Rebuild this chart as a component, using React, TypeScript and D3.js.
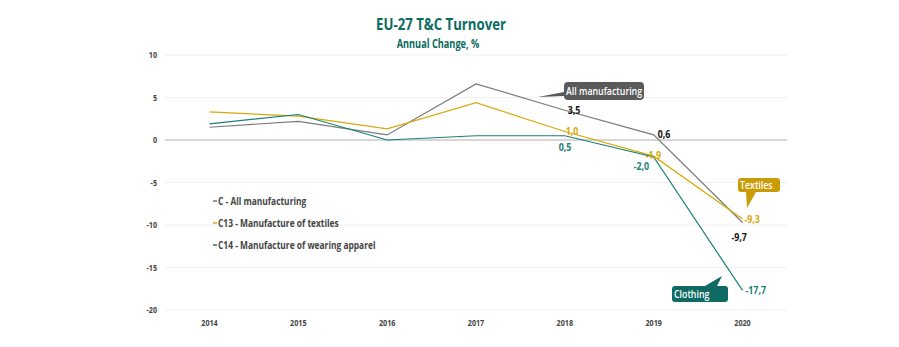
import React from "react";
import * as d3 from "d3";

const years = ["2014", "2015", "2016", "2017", "2018", "2019", "2020"];
const allManufacturing = [1.5, 2.2, 0.6, 6.6, 3.5, 0.6, -9.7];
const textiles = [3.3, 2.8, 1.3, 4.4, 1.0, -1.9, -9.3];
const clothing = [1.9, 3.0, 0.0, 0.5, 0.5, -2.0, -17.7];
const yTicks = [10, 5, 0, -5, -10, -15, -20];
const legendLabels = [
  "C - All manufacturing",
  "C13 - Manufacture of textiles",
  "C14 - Manufacture of wearing apparel",
];

const W = 899, H = 347;
const GRAY = "#7a7a7a", GOLD = "#d8a90a", TEAL = "#1b7e77";
const GRAYBOX = "#5a5a5a", GOLDBOX = "#c99b06", TEALBOX = "#0e6a63";
const FONT = "'Open Sans', 'DejaVu Sans', sans-serif";
const SX = 0.8;

function T({ x, y, children, anchor = "start", size = 9, fill = "#444", weight = 700 }: any) {
  return (
    <text
      transform={`translate(${x},${y}) scale(${SX},1)`}
      textAnchor={anchor}
      fontSize={size}
      fontWeight={weight}
      fill={fill}
      fontFamily={FONT}
    >
      {children}
    </text>
  );
}

const fmt = (v: number) => v.toFixed(1).replace(".", ",");

export default function App() {
  const x = d3.scalePoint<string>().domain(years).range([209.5, 742.5]);
  const y = d3.scaleLinear().domain([-20, 10]).range([310, 55]);
  const line = d3
    .line<number>()
    .x((_, i) => x(years[i])!)
    .y((d) => y(d));
  const x0 = 165, x1 = 787;
  const last = years.length - 1;
  const px = (i: number) => x(years[i])!;

  return (
    <div style={{ margin: "-8px" }}>
      <svg width={W} height={H} style={{ display: "block", background: "#fff" }}>
        {/* title */}
        <T x={441} y={30} anchor="middle" size={16.5} fill="#0b6a62">EU-27 T&amp;C Turnover</T>
        <T x={438} y={48} anchor="middle" size={11.5} fill="#0b6a62">Annual Change, %</T>

        {/* grid */}
        {yTicks.map((t) => (
          <g key={t}>
            <line
              x1={x0}
              x2={x1}
              y1={y(t)}
              y2={y(t)}
              stroke={t === 0 ? "#b0b0b0" : "#f0f0f0"}
              strokeWidth={t === 0 ? 1.2 : 1}
            />
            <T x={157} y={y(t) + 3} anchor="end" size={9}>{String(t)}</T>
          </g>
        ))}
        {years.map((yr) => (
          <T key={yr} x={x(yr)!} y={326} anchor="middle" size={9}>{yr}</T>
        ))}

        {/* lines */}
        <path d={line(allManufacturing)!} fill="none" stroke={GRAY} strokeWidth={1.2} />
        <path d={line(textiles)!} fill="none" stroke={GOLD} strokeWidth={1.2} />
        <path d={line(clothing)!} fill="none" stroke={TEAL} strokeWidth={1.2} />

        {/* data labels */}
        <T x={px(4) + 3} y={y(allManufacturing[4]) + 4} size={11} fill="#111">{fmt(allManufacturing[4])}</T>
        <T x={px(5) + 4} y={y(allManufacturing[5]) + 3} size={11} fill="#111">{fmt(allManufacturing[5])}</T>
        <T x={px(last) - 11} y={y(allManufacturing[last]) + 19} size={11} fill="#111">{fmt(allManufacturing[last])}</T>
        <T x={px(4) + 1} y={y(textiles[4]) + 3} size={11} fill={GOLD}>{fmt(textiles[4])}</T>
        <T x={px(5) - 8} y={y(textiles[5]) + 3} size={11} fill={GOLD}>{fmt(textiles[5])}</T>
        <T x={px(last) + 2} y={y(textiles[last]) + 4} size={11} fill={GOLD}>{fmt(textiles[last])}</T>
        <T x={px(4) - 6} y={y(clothing[4]) + 15} size={11} fill={TEAL}>{fmt(clothing[4])}</T>
        <T x={px(5) - 20} y={y(clothing[5]) + 13} size={11} fill={TEAL}>{fmt(clothing[5])}</T>
        <T x={px(last) + 3} y={y(clothing[last]) + 4} size={11} fill={TEAL}>{fmt(clothing[last])}</T>

        {/* callouts */}
        <path d="M568,82 H640 Q644,82 644,86 V96 Q644,100 640,100 H568 Q564,100 564,96 L538,97 L564,92 V86 Q564,82 568,82 Z" fill={GRAYBOX} />
        <T x={566} y={95} size={11} fill="#fff" weight={600}>All manufacturing</T>

        <path d="M741,178 H777 Q780,178 780,181 V189 Q780,192 777,192 H756 L747,208 L746,192 H741 Q738,192 738,189 V181 Q738,178 741,178 Z" fill={GOLDBOX} />
        <T x={740} y={189} size={11} fill="#fff" weight={600}>Textiles</T>

        <path d="M675,286 H705 L722,276 L717,286 H725 Q728,286 728,289 V299 Q728,302 725,302 H675 Q672,302 672,299 V289 Q672,286 675,286 Z" fill={TEALBOX} />
        <T x={674} y={298} size={11} fill="#fff" weight={600}>Clothing</T>

        {/* legend */}
        {legendLabels.map((lab, i) => (
          <g key={lab}>
            <line x1={213} x2={217} y1={201 + i * 22} y2={201 + i * 22} stroke={[GRAY, GOLD, TEAL][i]} strokeWidth={1.5} />
            <T x={218} y={204.5 + i * 22} size={10.5}>{lab}</T>
          </g>
        ))}
      </svg>
    </div>
  );
}
